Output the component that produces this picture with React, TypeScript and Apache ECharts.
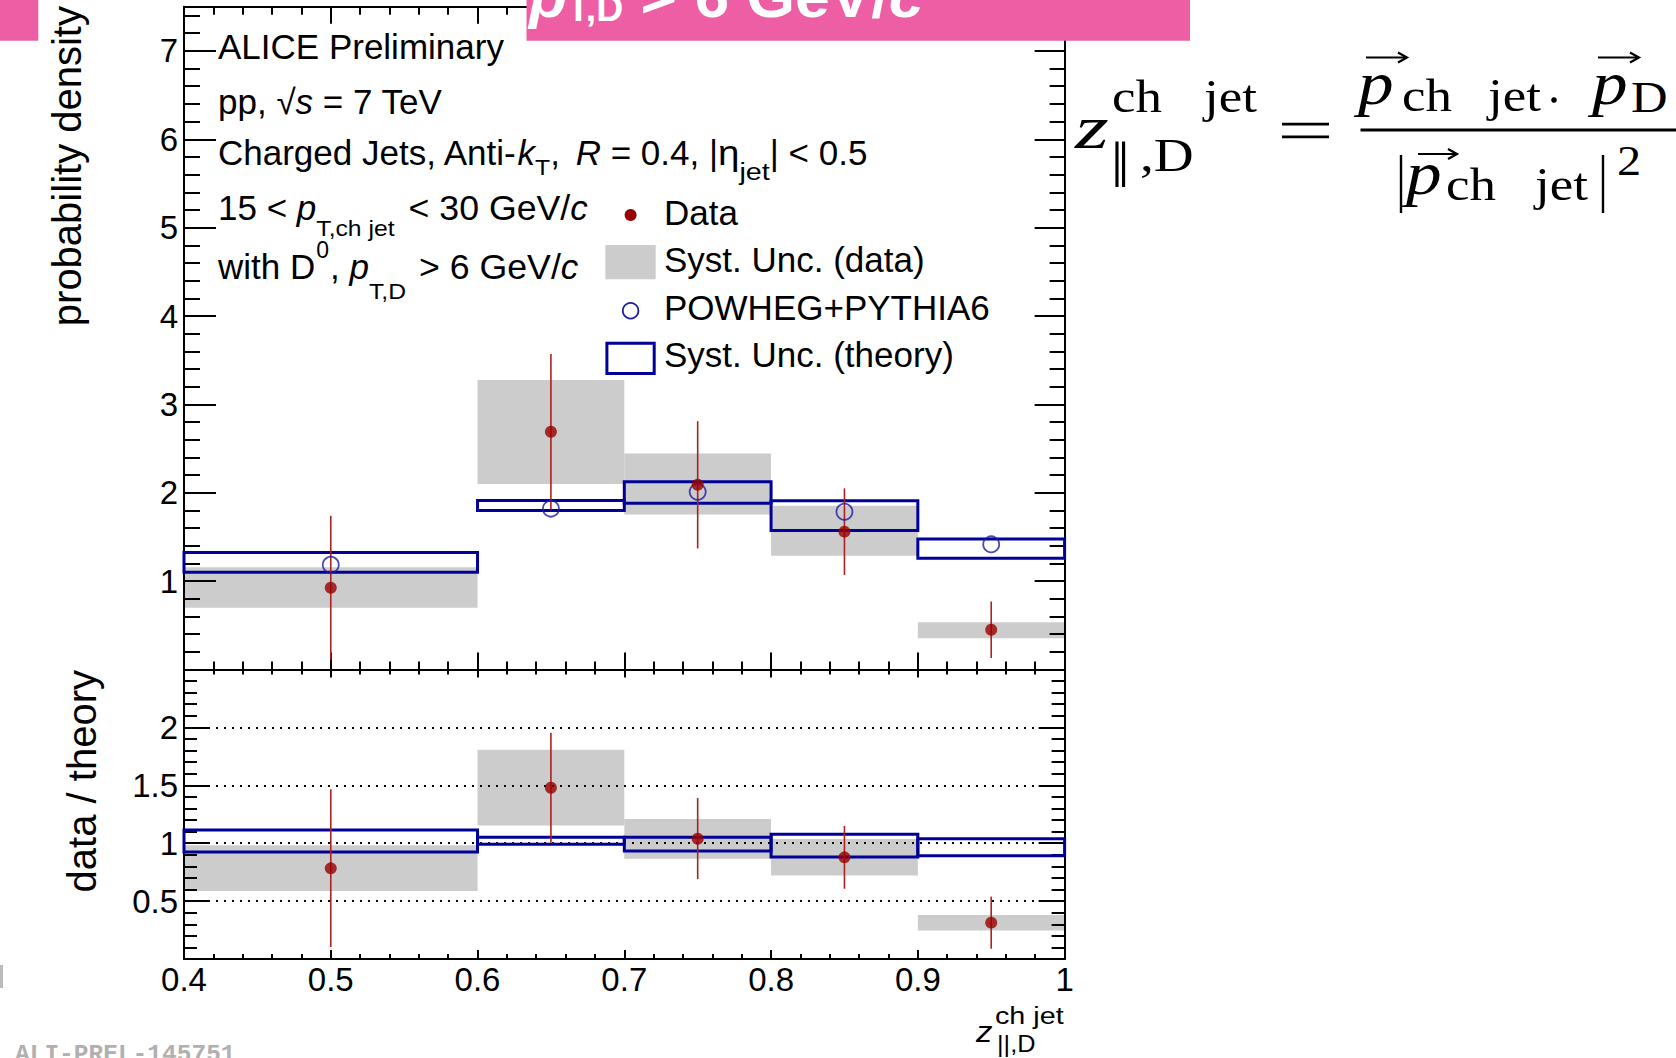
import React, { useEffect, useRef } from "react";
import * as echarts from "echarts";

// ---------------- data ----------------
const binLo = [0.4, 0.6, 0.7, 0.8, 0.9];
const binHi = [0.6, 0.7, 0.8, 0.9, 1.0];
const binCenter = [0.5, 0.65, 0.75, 0.85, 0.95];

const dataValue = [0.925, 2.69, 2.09, 1.56, 0.45];
const dataStatLo = [0.11, 1.81, 1.37, 1.07, 0.13];
const dataStatHi = [1.74, 3.57, 2.81, 2.05, 0.77];
const dataSystLo = [0.7, 2.1, 1.755, 1.287, 0.353];
const dataSystHi = [1.156, 3.275, 2.445, 1.853, 0.534];

const theoryValue = [1.185, 1.82, 2.01, 1.785, 1.416];
const theorySystLo = [1.1, 1.8, 1.88, 1.574, 1.258];
const theorySystHi = [1.325, 1.912, 2.125, 1.91, 1.476];

const ratioValue = [0.783, 1.479, 1.039, 0.878, 0.314];
const ratioStatLo = [0.103, 1.004, 0.689, 0.607, 0.089];
const ratioStatHi = [1.465, 1.954, 1.391, 1.149, 0.539];
const ratioSystLo = [0.588, 1.152, 0.866, 0.72, 0.247];
const ratioSystHi = [0.982, 1.806, 1.21, 1.036, 0.379];
const ratioTheoryLo = [0.924, 0.99, 0.933, 0.881, 0.892];
const ratioTheoryHi = [1.114, 1.051, 1.051, 1.077, 1.039];

const xTickLabels = [0.4, 0.5, 0.6, 0.7, 0.8, 0.9, 1];
const upperYTickLabels = [1, 2, 3, 4, 5, 6, 7];
const lowerYTickLabels = [0.5, 1, 1.5, 2];
const legendLabels = ["Data", "Syst. Unc. (data)", "POWHEG+PYTHIA6", "Syst. Unc. (theory)"];

// ---------------- style ----------------
const PINK = "#ee5ea5";
const RED = "#990000";
const ERR = "#b02020";
const GREY = "#cccccc";
const BLUE = "#000099";
const CIRC = "#1c1ca8";
const SANS = "'Liberation Sans', Arial, sans-serif";
const SERIF = "'Liberation Serif', 'Times New Roman', serif";
const MONO = "'Liberation Mono', 'Courier New', monospace";

let measureCtx: CanvasRenderingContext2D | null = null;
function measure(t: string, font: string) {
  if (!measureCtx) measureCtx = document.createElement("canvas").getContext("2d");
  measureCtx!.font = font;
  return measureCtx!.measureText(t).width;
}

type Seg = { t: string; s: number; it?: boolean; b?: boolean; dy?: number; dx?: number; fam?: string; fill?: string; sx?: number };

function fontStr(seg: Seg) {
  return `${seg.it ? "italic " : ""}${seg.b ? "bold " : ""}${seg.s}px ${seg.fam || SANS}`;
}

function textEl(seg: Seg, x: number, base: number, fill = "#000") {
  const c = seg.fam === SERIF ? 0.3375 : seg.fam === MONO ? 0.2665 : 0.3465;
  return {
    type: "text",
    x,
    y: base + (seg.dy || 0) - c * seg.s,
    scaleX: seg.sx || 1,
    silent: true,
    z: 100,
    style: {
      text: seg.t,
      x: 0,
      y: 0,
      font: fontStr(seg),
      fill: seg.fill || fill,
      textAlign: "left",
      textVerticalAlign: "middle",
      align: "left",
      verticalAlign: "middle",
    },
  };
}

function textRun(segs: Seg[], x0: number, base: number, fill = "#000") {
  const out: any[] = [];
  let x = x0;
  for (const seg of segs) {
    x += seg.dx || 0;
    out.push(textEl(seg, x, base, fill));
    x += measure(seg.t, fontStr(seg)) * (seg.sx || 1);
  }
  return out;
}

function fmt(v: number, list: number[]) {
  const m = list.find((t) => Math.abs(t - v) < 1e-6);
  return m === undefined ? "" : String(m);
}

const axisLineStyle = { color: "#000", width: 2 };

function xAxisDef(gridIndex: number, position: string, showLabel: boolean, major: number, minor: number) {
  return {
    type: "value",
    gridIndex,
    position,
    min: 0.4,
    max: 1.0,
    interval: 0.1,
    z: 3,
    axisLine: { show: true, onZero: false, lineStyle: axisLineStyle },
    axisTick: { show: true, inside: true, length: major, lineStyle: axisLineStyle },
    minorTick: { show: true, splitNumber: 5, length: minor, lineStyle: axisLineStyle },
    splitLine: { show: false },
    minorSplitLine: { show: false },
    axisLabel: showLabel
      ? { show: true, margin: 4, color: "#000", fontSize: 33, fontFamily: SANS, formatter: (v: number) => fmt(v, xTickLabels) }
      : { show: false },
  };
}

function yAxisDef(
  gridIndex: number,
  position: string,
  max: number,
  interval: number,
  major: number,
  minorSplit: number,
  minorLen: number,
  labels: number[] | null,
  fontSize: number,
  dotted: boolean
) {
  return {
    type: "value",
    gridIndex,
    position,
    min: 0,
    max,
    interval,
    z: 3,
    axisLine: { show: true, onZero: false, lineStyle: axisLineStyle },
    axisTick: { show: true, inside: true, length: major, lineStyle: axisLineStyle },
    minorTick: { show: minorSplit > 0, splitNumber: minorSplit || 5, length: minorLen, lineStyle: axisLineStyle },
    splitLine: dotted ? { show: true, lineStyle: { color: "#000", width: 2, type: [2, 6] } } : { show: false },
    minorSplitLine: { show: false },
    axisLabel: labels
      ? { show: true, margin: 6, color: "#000", fontSize, fontFamily: SANS, formatter: (v: number) => fmt(v, labels) }
      : { show: false },
  };
}

function boxSeries(name: string, lo: number[], hi: number[], ylo: number[], yhi: number[], style: any, xi: number, yi: number, z: number) {
  return {
    name,
    type: "custom",
    xAxisIndex: xi,
    yAxisIndex: yi,
    z,
    silent: true,
    data: lo.map((l, i) => [l, hi[i], ylo[i], yhi[i]]),
    renderItem: (params: any, api: any) => {
      const p1 = api.coord([api.value(0), api.value(3)]);
      const p2 = api.coord([api.value(1), api.value(2)]);
      return {
        type: "rect",
        shape: { x: p1[0], y: p1[1], width: p2[0] - p1[0], height: p2[1] - p1[1] },
        style: { ...style },
      };
    },
  };
}

function errSeries(name: string, xs: number[], lo: number[], hi: number[], xi: number, yi: number) {
  return {
    name,
    type: "custom",
    xAxisIndex: xi,
    yAxisIndex: yi,
    z: 5,
    silent: true,
    data: xs.map((x, i) => [x, lo[i], hi[i]]),
    renderItem: (params: any, api: any) => {
      const a = api.coord([api.value(0), api.value(1)]);
      const b = api.coord([api.value(0), api.value(2)]);
      return {
        type: "line",
        shape: { x1: a[0], y1: a[1], x2: b[0], y2: b[1] },
        style: { stroke: ERR, lineWidth: 1.6 },
      };
    },
  };
}

function arrow(x1: number, x2: number, y: number) {
  return [
    { type: "line", silent: true, z: 100, shape: { x1, y1: y, x2: x2 - 1, y2: y }, style: { stroke: "#000", lineWidth: 2.2 } },
    {
      type: "polyline",
      silent: true,
      z: 100,
      shape: { points: [[x2 - 9, y - 5], [x2, y], [x2 - 9, y + 5]] },
      style: { stroke: "#000", lineWidth: 2.2, fill: "none" },
    },
  ];
}

function buildGraphics() {
  const g: any[] = [];
  // pink banners
  g.push({ type: "rect", silent: true, z: 90, shape: { x: 0, y: 0, width: 38.3, height: 40.7 }, style: { fill: PINK } });
  g.push({ type: "rect", silent: true, z: 90, shape: { x: 526.5, y: 0, width: 663.5, height: 40.7 }, style: { fill: PINK } });
  g.push(
    ...textRun(
      [
        { t: "p", s: 60, it: true, b: true, sx: 1.04 },
        { t: "T,D", s: 36, b: true, dy: 4, sx: 1.04 },
        { t: " > 6 GeV/", s: 60, b: true, sx: 1.04 },
        { t: "c", s: 60, it: true, b: true, sx: 1.04 },
      ],
      529,
      17,
      "#fff"
    )
  );

  // axis titles
  g.push({
    type: "text", silent: true, z: 100, x: 67, y: 6, rotation: Math.PI / 2,
    style: { text: "probability density", font: `40px ${SANS}`, fill: "#000", textAlign: "right", textVerticalAlign: "middle", align: "right", verticalAlign: "middle" },
  });
  g.push({
    type: "text", silent: true, z: 100, x: 81.5, y: 670, rotation: Math.PI / 2,
    style: { text: "data / theory", font: `40px ${SANS}`, fill: "#000", textAlign: "right", textVerticalAlign: "middle", align: "right", verticalAlign: "middle" },
  });
  g.push(textEl({ t: "z", s: 30, it: true, sx: 1.1 }, 976, 1042.3));
  g.push(textEl({ t: "ch jet", s: 23, sx: 1.25 }, 995, 1024));
  g.push(textEl({ t: "||,D", s: 23, sx: 1.1 }, 997, 1052));

  // description text
  const T = 35;
  const S = 23;
  const SX = 1.075;
  g.push(...textRun([{ t: "ALICE Preliminary", s: T }], 218, 59));
  g.push(...textRun([{ t: "pp, ", s: T }, { t: "√", s: T }, { t: "s", s: T, it: true }, { t: " = 7 TeV", s: T }], 218, 114));
  g.push(
    ...textRun(
      [
        { t: "Charged Jets, Anti-", s: T },
        { t: "k", s: T, it: true },
        { t: "T", s: S, dy: 10, sx: SX },
        { t: ", ", s: T },
        { t: "R", s: T, it: true, dx: 6 },
        { t: " = 0.4, |", s: T },
        { t: "η", s: T, sx: 1.1 },
        { t: "jet", s: S, dy: 15, sx: 1.25 },
        { t: "| < 0.5", s: T },
      ],
      218,
      165
    )
  );
  g.push(
    ...textRun(
      [
        { t: "15 < ", s: T },
        { t: "p", s: T, it: true },
        { t: "T,ch jet", s: S, dy: 16, sx: SX },
        { t: " < 30 GeV/", s: T, dx: 4, sx: 1.02 },
        { t: "c", s: T, it: true },
      ],
      218,
      219.3
    )
  );
  g.push(
    ...textRun(
      [
        { t: "with D", s: T },
        { t: "0", s: S, dy: -20, dx: 1 },
        { t: ", ", s: T, dx: 1 },
        { t: "p", s: T, it: true },
        { t: "T,D", s: S, dy: 20, sx: SX },
        { t: " > 6 GeV/", s: T, dx: 3, sx: 1.02 },
        { t: "c", s: T, it: true },
      ],
      218,
      278.3
    )
  );

  // legend
  g.push({ type: "circle", silent: true, z: 100, shape: { cx: 630.6, cy: 215, r: 6 }, style: { fill: RED } });
  g.push({ type: "rect", silent: true, z: 100, shape: { x: 605.4, y: 245, width: 50.3, height: 34.3 }, style: { fill: GREY } });
  g.push({ type: "circle", silent: true, z: 100, shape: { cx: 630.6, cy: 310.7, r: 7.8 }, style: { fill: "none", stroke: CIRC, lineWidth: 1.8 } });
  g.push({ type: "rect", silent: true, z: 100, shape: { x: 606.9, y: 343.2, width: 47.3, height: 30.3 }, style: { fill: "none", stroke: BLUE, lineWidth: 3 } });
  const legBase = [225, 271.7, 320, 366.7];
  legendLabels.forEach((l, i) => g.push(textEl({ t: l, s: T }, 664, legBase[i])));

  // equation on the right
  const eq = (t: string, s: number, x: number, base: number, it = false, sx = 1.15) =>
    textEl({ t, s, it, fam: SERIF, sx }, x, base);
  g.push(eq("z", 62, 1075, 148, true, 1.4));
  g.push(eq("ch", 46, 1112, 112));
  g.push(eq("jet", 46, 1204, 112));
  g.push(eq("‖", 66, 1111, 187, false, 1.0));
  g.push(eq(",D", 46, 1140, 171, false, 1.2));
  g.push({ type: "rect", silent: true, z: 100, shape: { x: 1282, y: 122.8, width: 47, height: 2.8 }, style: { fill: "#000" } });
  g.push({ type: "rect", silent: true, z: 100, shape: { x: 1282, y: 135.4, width: 47, height: 2.8 }, style: { fill: "#000" } });
  g.push({ type: "rect", silent: true, z: 100, shape: { x: 1360.5, y: 128.6, width: 316, height: 2.8 }, style: { fill: "#000" } });
  // numerator
  g.push(eq("p", 62, 1358, 104, true));
  g.push(eq("ch", 46, 1402, 111));
  g.push(eq("jet", 46, 1488, 111));
  g.push({ type: "circle", silent: true, z: 100, shape: { cx: 1554, cy: 100, r: 2.8 }, style: { fill: "#000" } });
  g.push(eq("p", 62, 1592, 104, true));
  g.push(eq("D", 44, 1631, 112));
  g.push(...arrow(1366, 1407, 57.5));
  g.push(...arrow(1598, 1639, 57.5));
  // denominator
  g.push({ type: "line", silent: true, z: 100, shape: { x1: 1401, y1: 155, x2: 1401, y2: 213 }, style: { stroke: "#000", lineWidth: 2.4 } });
  g.push(eq("p", 62, 1406, 194, true));
  g.push(eq("ch", 46, 1446, 200));
  g.push(eq("jet", 46, 1535, 200));
  g.push({ type: "line", silent: true, z: 100, shape: { x1: 1603, y1: 155, x2: 1603, y2: 213 }, style: { stroke: "#000", lineWidth: 2.4 } });
  g.push(eq("2", 42, 1617, 175));
  g.push(...arrow(1418, 1457, 154));

  // footer
  g.push(textEl({ t: "ALI-PREL-145751", s: 24.5, b: true, fam: MONO }, 15, 1061, "#b0b0b0"));
  g.push({ type: "rect", silent: true, z: 100, shape: { x: 0, y: 965, width: 3, height: 23 }, style: { fill: "#bbbbbb" } });
  return g;
}

function buildOption() {
  const grids = [
    { left: 184, top: 6.7, width: 880.6, height: 662.8, outerBoundsMode: "none", containLabel: false },
    { left: 184, top: 669.5, width: 880.6, height: 289.5, outerBoundsMode: "none", containLabel: false },
  ];
  const xAxes = [
    xAxisDef(0, "bottom", false, 17, 8),
    xAxisDef(0, "top", false, 17, 8),
    xAxisDef(1, "bottom", true, 9, 5),
    xAxisDef(1, "top", false, 8, 5),
  ];
  const yAxes = [
    yAxisDef(0, "left", 7.5, 1, 32, 0, 0, upperYTickLabels, 33, false),
    yAxisDef(0, "left", 7.5, 0.2, 16, 0, 0, null, 33, false),
    yAxisDef(0, "right", 7.5, 1, 30, 0, 0, null, 33, false),
    yAxisDef(0, "right", 7.5, 0.2, 15, 0, 0, null, 33, false),
    yAxisDef(1, "left", 2.5, 0.5, 26, 5, 13, lowerYTickLabels, 33, true),
    yAxisDef(1, "right", 2.5, 0.5, 26, 5, 13, null, 33, false),
  ];
  const series: any[] = [
    boxSeries(legendLabels[1], binLo, binHi, dataSystLo, dataSystHi, { fill: GREY }, 0, 0, 2),
    boxSeries(legendLabels[3], binLo, binHi, theorySystLo, theorySystHi, { fill: "none", stroke: BLUE, lineWidth: 3 }, 0, 0, 4),
    errSeries("Data stat.", binCenter, dataStatLo, dataStatHi, 0, 0),
    {
      name: legendLabels[2],
      type: "scatter",
      xAxisIndex: 0,
      yAxisIndex: 0,
      z: 6,
      silent: true,
      symbol: "circle",
      symbolSize: 16,
      itemStyle: { color: "rgba(0,0,0,0)", borderColor: CIRC, borderWidth: 1.8 },
      data: binCenter.map((x, i) => [x, theoryValue[i]]),
    },
    {
      name: legendLabels[0],
      type: "scatter",
      xAxisIndex: 0,
      yAxisIndex: 0,
      z: 7,
      silent: true,
      symbol: "circle",
      symbolSize: 12,
      itemStyle: { color: RED },
      data: binCenter.map((x, i) => [x, dataValue[i]]),
    },
    boxSeries("ratio syst", binLo, binHi, ratioSystLo, ratioSystHi, { fill: GREY }, 2, 4, 2),
    boxSeries("ratio theory", binLo, binHi, ratioTheoryLo, ratioTheoryHi, { fill: "none", stroke: BLUE, lineWidth: 3 }, 2, 4, 4),
    errSeries("ratio stat", binCenter, ratioStatLo, ratioStatHi, 2, 4),
    {
      name: "ratio",
      type: "scatter",
      xAxisIndex: 2,
      yAxisIndex: 4,
      z: 7,
      silent: true,
      symbol: "circle",
      symbolSize: 12,
      itemStyle: { color: RED },
      data: binCenter.map((x, i) => [x, ratioValue[i]]),
    },
  ];
  return {
    animation: false,
    backgroundColor: "#fff",
    grid: grids,
    xAxis: xAxes,
    yAxis: yAxes,
    series,
    graphic: { elements: buildGraphics() },
  };
}

export default function App() {
  const ref = useRef<HTMLDivElement>(null);
  useEffect(() => {
    if (!ref.current) return;
    const chart = echarts.init(ref.current, null, { renderer: "svg" });
    chart.setOption(buildOption() as any);
    return () => chart.dispose();
  }, []);
  return <div ref={ref} style={{ position: "absolute", left: 0, top: 0, width: 1676, height: 1058 }} />;
}
